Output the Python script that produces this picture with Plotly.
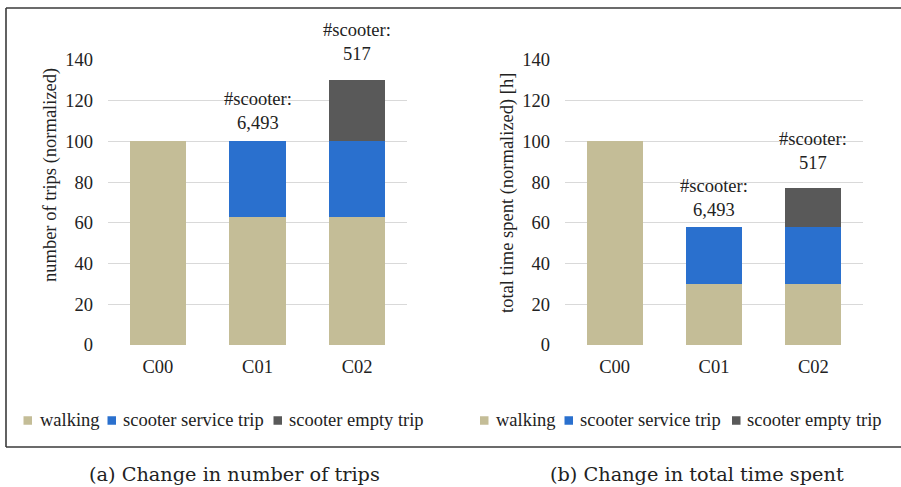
import plotly.graph_objects as go

categories = ["C00", "C01", "C02"]
series_names = ["walking", "scooter service trip", "scooter empty trip"]
series_colors = ["#C4BD97", "#2A70CE", "#595959"]

# (a) number of trips (normalized)
trips_walking = [100, 63, 63]
trips_service = [0, 37, 37]
trips_empty = [0, 0, 30]

# (b) total time spent (normalized) [h]
time_walking = [100, 30, 30]
time_service = [0, 28, 28]
time_empty = [0, 0, 19]

scooter_labels = ["", "#scooter:<br>6,493", "#scooter:<br>517"]
y_ticks = [0, 20, 40, 60, 80, 100, 120, 140]

W, H = 901, 487
FONT = "Liberation Serif, Times New Roman, serif"
FS = 18.5
TXT = "#222"

fig = go.Figure()

panels = [
    ("x", "y", [trips_walking, trips_service, trips_empty]),
    ("x2", "y2", [time_walking, time_service, time_empty]),
]
for xa, ya, vals in panels:
    for name, color, v in zip(series_names, series_colors, vals):
        fig.add_trace(go.Bar(
            x=categories, y=v, name=name, marker=dict(color=color, line=dict(width=0)),
            xaxis=xa, yaxis=ya, width=0.565, showlegend=False,
        ))


def px(x):
    return x / W


def py(y):
    return 1 - y / H


axis_x = dict(showgrid=False, zeroline=False, showline=False, ticks="",
              ticklabelstandoff=8, tickfont=dict(family=FONT, size=FS, color=TXT))
axis_y = dict(range=[0, 140], tickvals=y_ticks, showgrid=True, gridcolor="#D9D9D9",
              gridwidth=1.3, zeroline=False, ticks="", ticklabelstandoff=14,
              tickfont=dict(family=FONT, size=FS, color=TXT))

fig.update_layout(
    width=W, height=H, margin=dict(l=0, r=0, t=0, b=0, autoexpand=False),
    paper_bgcolor="white", plot_bgcolor="white",
    barmode="stack", bargap=0.435, showlegend=False,
    font=dict(family=FONT, size=FS, color=TXT),
    xaxis=dict(domain=[px(108), px(407)], anchor="y", **axis_x),
    yaxis=dict(domain=[py(345), py(60)], anchor="x", **axis_y),
    xaxis2=dict(domain=[px(565), px(863)], anchor="y2", **axis_x),
    yaxis2=dict(domain=[py(345), py(60)], anchor="x2", **axis_y),
)

# axis titles
fig.add_annotation(x=px(50), y=py(175), xref="paper", yref="paper", textangle=-90,
                   text="number of trips (normalized)", showarrow=False,
                   xanchor="center", yanchor="middle", font=dict(family=FONT, size=FS, color=TXT))
fig.add_annotation(x=px(507), y=py(193), xref="paper", yref="paper", textangle=-90,
                   text="total time spent (normalized) [h]", showarrow=False,
                   xanchor="center", yanchor="middle", font=dict(family=FONT, size=FS, color=TXT))

# bar-top annotations
totals_a = [a + b + c for a, b, c in zip(trips_walking, trips_service, trips_empty)]
totals_b = [a + b + c for a, b, c in zip(time_walking, time_service, time_empty)]
offsets_a = [0, 3, 7]
offsets_b = [0, 2.5, 6.5]
for i, cat in enumerate(categories):
    if scooter_labels[i]:
        fig.add_annotation(x=cat, y=totals_a[i] + offsets_a[i], xref="x", yref="y",
                           text=scooter_labels[i], showarrow=False, yanchor="bottom",
                           font=dict(family=FONT, size=FS, color=TXT))
        fig.add_annotation(x=cat, y=totals_b[i] + offsets_b[i], xref="x2", yref="y2",
                           text=scooter_labels[i], showarrow=False, yanchor="bottom",
                           font=dict(family=FONT, size=FS, color=TXT))

# legends (swatch + label), one per panel
legend_swatch_x = [[23.5, 107.5, 273.5], [480, 564.5, 732]]
legend_text_x = [[38, 121, 286.5], [494, 578, 745]]
LEG_Y = 420
SW = 8.5
for sx_list, tx_list in zip(legend_swatch_x, legend_text_x):
    for name, color, sx, tx in zip(series_names, series_colors, sx_list, tx_list):
        fig.add_shape(type="rect", xref="paper", yref="paper",
                      x0=px(sx), x1=px(sx + SW), y0=py(LEG_Y - SW / 2 + 0.5), y1=py(LEG_Y + SW / 2 + 0.5),
                      fillcolor=color, line=dict(width=0))
        fig.add_annotation(x=px(tx), y=py(LEG_Y), xref="paper", yref="paper",
                           text=name, showarrow=False, xanchor="left", yanchor="middle",
                           font=dict(family=FONT, size=FS, color=TXT))

# captions
CAP = "DejaVu Serif"
fig.add_annotation(x=px(234), y=py(474), xref="paper", yref="paper",
                   text="(a) Change in number of trips", showarrow=False,
                   xanchor="center", yanchor="middle",
                   font=dict(family=CAP, size=19.3, color=TXT))
fig.add_annotation(x=px(697), y=py(474), xref="paper", yref="paper",
                   text="(b) Change in total time spent", showarrow=False,
                   xanchor="center", yanchor="middle",
                   font=dict(family=CAP, size=19.3, color=TXT))

# frame
frame = dict(color="#3a3a3a", width=1.6)
fig.add_shape(type="line", xref="paper", yref="paper", x0=px(6), x1=1.01, y0=py(8), y1=py(8), line=frame)
fig.add_shape(type="line", xref="paper", yref="paper", x0=px(6), x1=1.01, y0=py(447), y1=py(447), line=frame)
fig.add_shape(type="line", xref="paper", yref="paper", x0=px(6), x1=px(6), y0=py(8), y1=py(447), line=frame)

fig.write_html(
    "out.html",
    config={"displayModeBar": False},
    post_script="document.body.style.margin='0px';document.body.style.overflow='hidden';",
)
